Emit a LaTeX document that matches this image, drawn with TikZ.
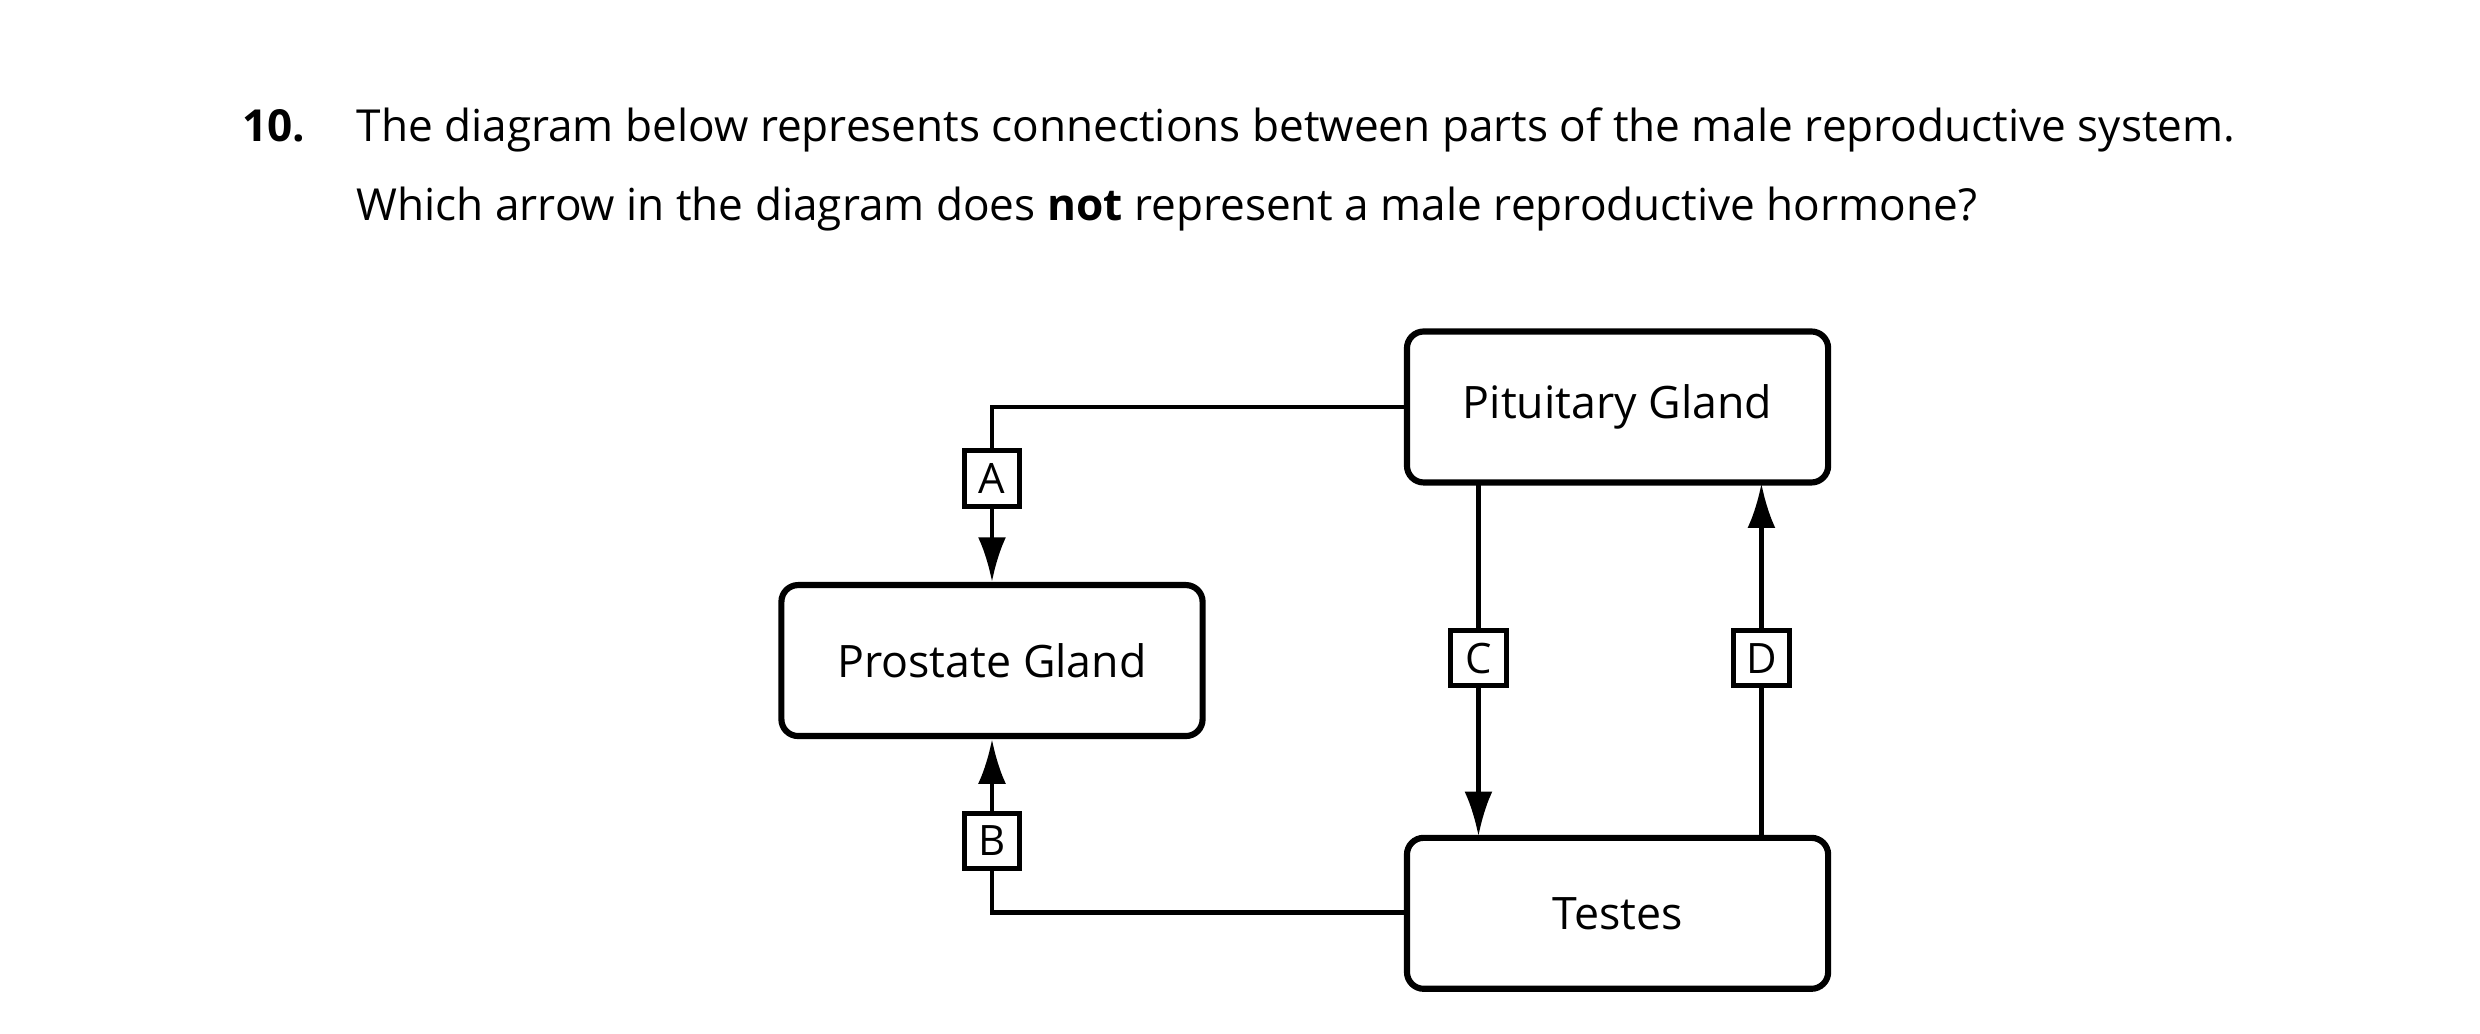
\documentclass[tikz,border=0pt]{standalone}
\usepackage{fontspec}
\setmainfont{Open Sans}
\usetikzlibrary{arrows.meta}
\begin{document}
\begin{tikzpicture}[x=0.02cm,y=-0.02cm,
  box/.style={draw,line width=2.2pt,rounded corners=6pt,minimum width=5.3cm,minimum height=1.9cm,font=\fontsize{16}{19}\selectfont,inner sep=0},
  lab/.style={draw,fill=white,line width=1.8pt,minimum size=0.7cm,inner sep=0,font=\fontsize{15}{17}\selectfont},
  conn/.style={line width=1.6pt},
  arr/.style={conn,-{Latex[length=16pt,width=10pt]}},
  txt/.style={anchor=base west,font=\fontsize{15.8}{19}\selectfont,inner sep=0}]
\useasboundingbox (0,0) rectangle (1560,650);
\node[txt] (num) at (152,89) {\textbf{10.}};
\node[txt] (l1) at (224,89) {The diagram below represents connections between parts of the male reproductive system.};
\node[txt] (l2) at (224,139) {Which arrow in the diagram does \textbf{not} represent a male reproductive hormone?};
\node[box] (pit) at (1017.5,256) {Pituitary Gland};
\node[box] (pro) at (624,415.5) {Prostate Gland};
\node[box] (tes) at (1017.5,574.5) {Testes};
\coordinate (ca) at (624,256);
\coordinate (cb) at (624,574);
\draw[arr] (pit.west|-ca) -- (ca) -- (pro.north);
\draw[arr] (tes.west|-cb) -- (cb) -- (pro.south);
\draw[arr] (930,304) -- (930,526);
\draw[arr] (1108,526) -- (1108,304);
\node[lab] (A) at (624,301) {A};
\node[lab] (B) at (624,529) {B};
\node[lab] (C) at (930,414) {C};
\node[lab] (D) at (1108,414) {D};
\end{tikzpicture}
\end{document}
